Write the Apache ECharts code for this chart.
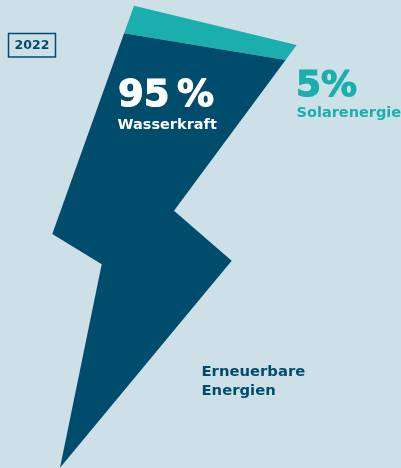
<!DOCTYPE html>
<html>
<head>
<meta charset="utf-8">
<script src="https://cdn.jsdelivr.net/npm/echarts@6/dist/echarts.min.js"></script>
<style>
html,body{margin:0;padding:0;background:#cde0e8;}
#chart{width:401px;height:468px;}
</style>
</head>
<body>
<div id="chart"></div>
<script>
// ---- data ----
const year = '2022';
const categories = ['Solarenergie', 'Wasserkraft']; // stacked from the top of the bolt
const shares = [5, 95];
const shareLabels = ['5%', '95\u2009%'];
const totalLabel = ['Erneuerbare', 'Energien'];

// ---- style ----
const NAVY = '#004c6c';
const TEAL = '#1aafac';
const BG = '#cde0e8';
const colors = [TEAL, NAVY];
const FONT = '"DejaVu Sans", sans-serif';

// bolt outline (artwork, in a 401x468 drawing space)
const BOLT = [[134,5.7],[296.7,45],[174,210.7],[231.7,260.7],[60,467.7],[101.7,264.3],[52.3,234]];
const CUT_SLOPE = 0.165;   // tilt of the dividing line
const ANCHOR_X = 215;      // where the share is measured
const BOLT_H = BOLT[4][1] - BOLT[0][1];

function topEdgeY(x){
  const p=BOLT[0], q=BOLT[1];
  return p[1] + (q[1]-p[1])*(x-p[0])/(q[0]-p[0]);
}
function cutLine(c){
  const yA = topEdgeY(ANCHOR_X) + c/100*BOLT_H;
  return {a: yA - CUT_SLOPE*ANCHOR_X, b: CUT_SLOPE};
}
function clipHalf(poly, line, keepBelow){
  const f = p => p[1] - (line.a + line.b*p[0]);
  const inside = p => keepBelow ? f(p) >= 0 : f(p) <= 0;
  const out=[];
  for(let i=0;i<poly.length;i++){
    const P=poly[i], Q=poly[(i+1)%poly.length];
    const pi=inside(P), qi=inside(Q);
    if(pi) out.push(P);
    if(pi!==qi){
      const fP=f(P), fQ=f(Q), t=fP/(fP-fQ);
      out.push([P[0]+t*(Q[0]-P[0]), P[1]+t*(Q[1]-P[1])]);
    }
  }
  return out;
}

let cum = 0;
const seriesData = shares.map((s,i)=>{
  const d = {name: categories[i], value:[cum, cum+s, s]};
  cum += s;
  return d;
});

const chart = echarts.init(document.getElementById('chart'), null, {renderer:'canvas'});
chart.setOption({
  backgroundColor: BG,
  animation: false,
  grid: {left:0, right:0, top:0, bottom:0},
  xAxis: {type:'value', min:0, max:401, show:false},
  yAxis: {type:'value', min:0, max:468, inverse:true, show:false},
  series: [{
    type:'custom',
    silent:true,
    z: 1,
    data: seriesData,
    renderItem: function(params, api){
      const start = api.value(0), end = api.value(1);
      let poly = BOLT.slice();
      if(start > 0) poly = clipHalf(poly, cutLine(start), true);
      if(end < 100) poly = clipHalf(poly, cutLine(end), false);
      return {
        type:'polygon',
        shape:{points: poly.map(p => api.coord(p))},
        style:{fill: colors[params.dataIndex]}
      };
    }
  }],
  graphic: {
    elements: [
      {type:'rect', z:100, shape:{x:8.5, y:33.5, width:47, height:23.5}, style:{fill:'none', stroke:NAVY, lineWidth:1.5}},
      {type:'text', z:100, x:32, y:45.5, style:{text:year, fill:NAVY, font:'bold 12.5px '+FONT, align:'center', verticalAlign:'middle'}},
      {type:'text', z:100, x:118, y:96.5, style:{text:shareLabels[1], fill:'#ffffff', stroke:'#ffffff', lineWidth:1.2, font:'bold 37px '+FONT, align:'left', verticalAlign:'middle'}},
      {type:'text', z:100, x:117.5, y:125.5, style:{text:categories[1], fill:'#ffffff', font:'bold 14.5px '+FONT, align:'left', verticalAlign:'middle'}},
      {type:'text', z:100, x:296, y:87, style:{text:shareLabels[0], fill:TEAL, stroke:TEAL, lineWidth:1.2, font:'bold 36px '+FONT, align:'left', verticalAlign:'middle'}},
      {type:'text', z:100, x:296.5, y:113, style:{text:categories[0], fill:TEAL, font:'bold 14.5px '+FONT, align:'left', verticalAlign:'middle'}},
      {type:'text', z:100, x:201.5, y:372, style:{text:totalLabel[0], fill:NAVY, font:'bold 14.8px '+FONT, align:'left', verticalAlign:'middle'}},
      {type:'text', z:100, x:201.5, y:391, style:{text:totalLabel[1], fill:NAVY, font:'bold 14.8px '+FONT, align:'left', verticalAlign:'middle'}}
    ]
  }
});
</script>
</body>
</html>
